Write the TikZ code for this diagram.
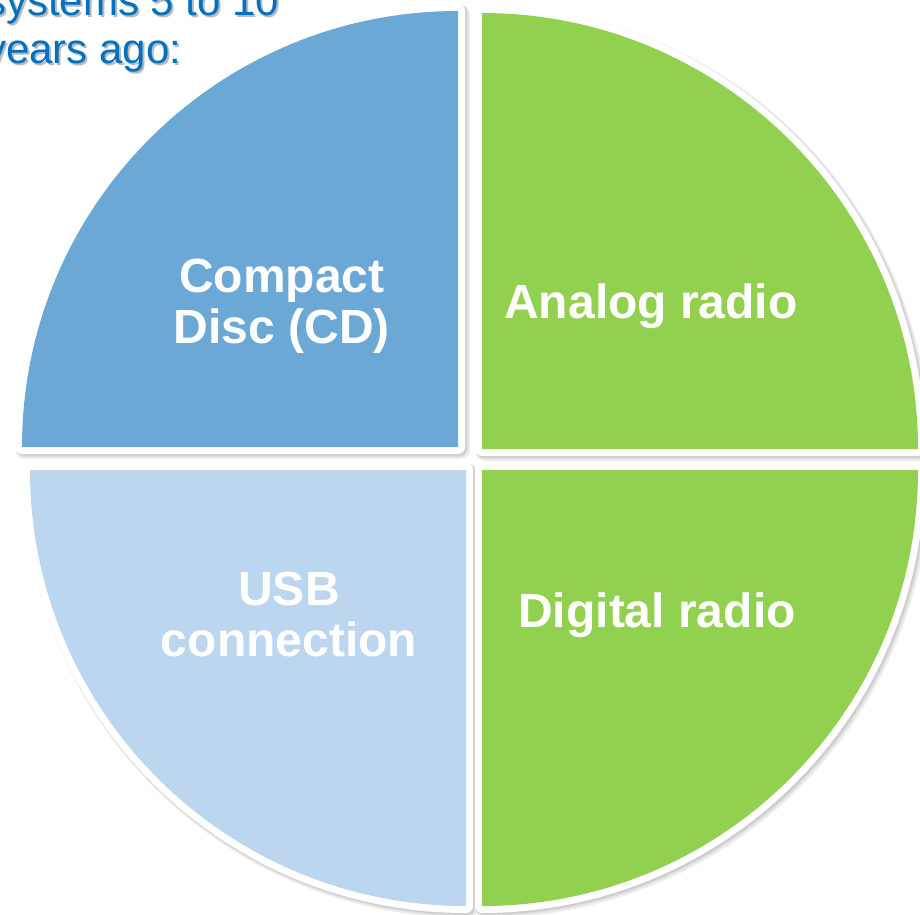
\documentclass[tikz,border=0pt]{standalone}
\usepackage{fontspec}
\setmainfont{Liberation Sans}
\definecolor{qblue}{HTML}{6CA8D6}
\definecolor{qlight}{HTML}{BCD6EF}
\definecolor{qgreen}{HTML}{92D050}
\definecolor{tblue}{HTML}{0070C0}
\begin{document}
\begin{tikzpicture}[x=1pt,y=1pt,
  qborder/.style={draw=white,line width=14,line join=round},
  qlabel/.style={text=white,font=\fontsize{48}{51}\selectfont\bfseries,align=center},
  ttext/.style={text=tblue,font=\fontsize{42}{48}\selectfont,anchor=base west,inner sep=0},
  tshadow/.style={text=black!45,opacity=0.6,font=\fontsize{42}{48}\selectfont,anchor=base west,inner sep=0}]
\useasboundingbox (0,0) rectangle (920,-914);
\def\R{436}
% shadows
\foreach \dx/\dy/\w in {3/-3/18,2/-2/16,1.5/-1.5/14}{
\begin{scope}[shift={(\dx,\dy)}]
\fill[black,opacity=0.07,draw=black,line width=\w,line join=round] (458,-447) -- ++(-\R,0) arc[start angle=180,end angle=90,radius=\R] -- cycle;
\fill[black,opacity=0.07,draw=black,line width=\w,line join=round] (482,-449) -- ++(0,\R) arc[start angle=90,end angle=0,radius=\R] -- cycle;
\fill[black,opacity=0.07,draw=black,line width=\w,line join=round] (482,-470) -- ++(\R,0) arc[start angle=0,end angle=-90,radius=\R] -- cycle;
\fill[black,opacity=0.07,draw=black,line width=\w,line join=round] (466,-470) -- ++(0,-\R) arc[start angle=270,end angle=180,radius=\R] -- cycle;
\end{scope}}
% white borders
\draw[qborder,fill=white] (458,-447) -- ++(-\R,0) arc[start angle=180,end angle=90,radius=\R] -- cycle;
\draw[qborder,fill=white] (482,-449) -- ++(0,\R) arc[start angle=90,end angle=0,radius=\R] -- cycle;
\draw[qborder,fill=white] (482,-470) -- ++(\R,0) arc[start angle=0,end angle=-90,radius=\R] -- cycle;
\draw[qborder,fill=white] (466,-470) -- ++(0,-\R) arc[start angle=270,end angle=180,radius=\R] -- cycle;
% fills
\fill[qblue] (458,-447) -- ++(-\R,0) arc[start angle=180,end angle=90,radius=\R] -- cycle;
\fill[qgreen] (482,-449) -- ++(0,\R) arc[start angle=90,end angle=0,radius=\R] -- cycle;
\fill[qgreen] (482,-470) -- ++(\R,0) arc[start angle=0,end angle=-90,radius=\R] -- cycle;
\fill[qlight] (466,-470) -- ++(0,-\R) arc[start angle=270,end angle=180,radius=\R] -- cycle;
% labels
\node[qlabel] (cd) at (282,-306) {Compact\\Disc (CD)};
\node[qlabel] (analog) at (651,-306) {Analog radio};
\node[qlabel] (digital) at (657,-615) {Digital radio};
\node[qlabel] (usb) at (289,-614) {USB\\connection};
% title text
\node[tshadow] (s1) at (-13,-17) {systems 5 to 10};
\node[tshadow] (s2) at (-13,-65) {years ago:};
\node[ttext] (t1) at (-15,-15) {systems 5 to 10};
\node[ttext] (t2) at (-15,-63) {years ago:};
\end{tikzpicture}
\end{document}
